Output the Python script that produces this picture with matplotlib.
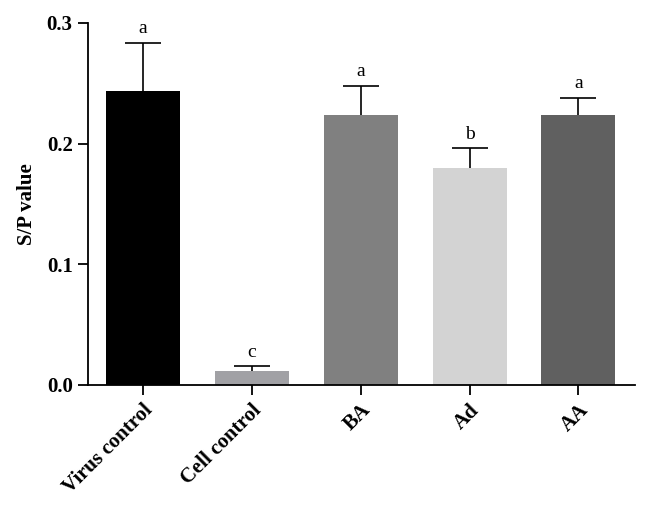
import numpy as np
import matplotlib.pyplot as plt

# values
groups = ['Virus control', 'Cell control', 'BA', 'Ad', 'AA']
sp_mean = [0.244, 0.0116, 0.224, 0.180, 0.224]
sp_err = [0.0395, 0.0038, 0.0238, 0.0163, 0.0138]
letters = ['a', 'c', 'a', 'b', 'a']
colors = ['#000000', '#a1a1a5', '#808080', '#d3d3d3', '#606060']

plt.rcParams['font.family'] = ['Liberation Serif', 'DejaVu Serif']

fig = plt.figure(figsize=(6.49, 5.08), dpi=100)
ax = fig.add_axes([88/649, 1 - 385/508, (635 - 88)/649, (385 - 23)/508])

x = np.arange(len(groups))
ax.bar(x, sp_mean, width=0.68, color=colors, zorder=2)
# upper error bars only
eb = ax.errorbar(x, sp_mean, yerr=[np.zeros(len(x)), sp_err], fmt='none',
                 ecolor='black', elinewidth=1.2, capsize=13, capthick=1.2, zorder=3)
eb[1][0].set_visible(False)

for xi, m, e, lab in zip(x, sp_mean, sp_err, letters):
    ax.annotate(lab, (xi, m + e), xytext=(0, 4), textcoords='offset points',
                ha='center', va='bottom', fontsize=14)

ax.set_xlim(-0.505, 4.52)
ax.set_ylim(0, 0.3)
ax.set_yticks([0.0, 0.1, 0.2, 0.3])
ax.set_yticklabels(['0.0', '0.1', '0.2', '0.3'], fontsize=15, fontweight='bold')
ax.set_xticks(x)
ax.set_xticklabels(groups, rotation=45, ha='right', rotation_mode='anchor',
                   fontsize=15, fontweight='bold')
ax.set_ylabel('S/P value', fontsize=15, fontweight='bold', labelpad=7)

for s in ['top', 'right']:
    ax.spines[s].set_visible(False)
for s in ['left', 'bottom']:
    ax.spines[s].set_linewidth(1.3)
ax.tick_params(axis='both', direction='out', length=7, width=1.3)
ax.tick_params(axis='y', pad=4)
ax.tick_params(axis='x', pad=4)

fig.savefig('out.png', dpi=100)
